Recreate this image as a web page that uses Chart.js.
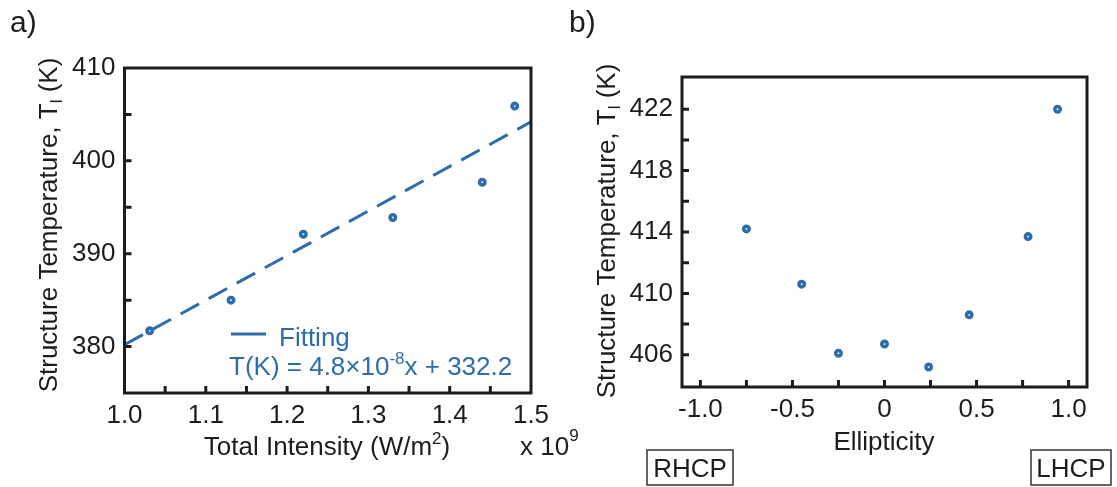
<!DOCTYPE html>
<html>
<head>
<meta charset="utf-8">
<script src="https://cdn.jsdelivr.net/npm/chart.js@4.4.1/dist/chart.umd.min.js"></script>
<style>
  body { margin: 0; background: #fff; }
  #wrap { position: relative; width: 1117px; height: 487px; overflow: hidden; }
  canvas { position: absolute; top: 0; }
  #chartA { left: 0; }
  #chartB { left: 560px; }
</style>
</head>
<body>
<div id="wrap">
  <canvas id="chartA" width="600" height="487"></canvas>
  <canvas id="chartB" width="557" height="487"></canvas>
</div>
<script>
// panel a) - temperature vs total intensity (x 1e9 W/m2)
const intensity = [1.031, 1.131, 1.220, 1.330, 1.440, 1.480];
const tempA = [381.7, 385.0, 392.1, 393.9, 397.7, 405.9];
const fitX = [1.0, 1.5];
const fitT = [380.2, 404.2];
const xLabelsA = [1.0, 1.1, 1.2, 1.3, 1.4, 1.5];
const xMarksA = [1.05, 1.1, 1.15, 1.2, 1.25, 1.3, 1.35, 1.4, 1.45];
const yLabelsA = [380, 390, 400, 410];
const yMarksA = [380, 385, 390, 395, 400, 405];

// panel b) - temperature vs ellipticity
const ellipticity = [-0.75, -0.45, -0.25, 0, 0.24, 0.46, 0.78, 0.94];
const tempB = [414.2, 410.6, 406.1, 406.7, 405.2, 408.6, 413.7, 422.0];
const xLabelsB = [-1.0, -0.5, 0, 0.5, 1.0];
const xMarksB = [-1.0, -0.75, -0.5, -0.25, 0, 0.25, 0.5, 0.75, 1.0];
const yLabelsB = [406, 410, 414, 418, 422];
const yMarksB = [406, 408, 410, 412, 414, 416, 418, 420, 422];

const BLUE = '#2e6dad';
const INK = '#1c1c1c';
const FONT = '"Liberation Sans", Arial, sans-serif';

function tickFont() { return { family: FONT, size: 26 }; }

// box around the plot area + inward ticks on left/bottom
function frame(xMarks, yMarks) {
    return {
        id: 'frame',
        afterDraw(chart) {
            const { ctx, chartArea: a, scales } = chart;
            ctx.save();
            ctx.strokeStyle = INK;
            ctx.lineWidth = 3;
            ctx.beginPath();
            xMarks.forEach(v => {
                const px = scales.x.getPixelForValue(v);
                ctx.moveTo(px, a.bottom);
                ctx.lineTo(px, a.bottom - 7);
            });
            yMarks.forEach(v => {
                const py = scales.y.getPixelForValue(v);
                ctx.moveTo(a.left, py);
                ctx.lineTo(a.left + 7, py);
            });
            ctx.stroke();
            ctx.strokeRect(a.left, a.top, a.right - a.left, a.bottom - a.top);
            ctx.restore();
        }
    };
}

// text pieces: [string, size, dy]
function drawPieces(ctx, pieces, x, y, align, color) {
    let total = 0;
    pieces.forEach(p => { ctx.font = p[1] + 'px ' + FONT; p.w = ctx.measureText(p[0]).width; total += p.w; });
    let cx = align === 'center' ? x - total / 2 : x;
    ctx.fillStyle = color;
    ctx.textAlign = 'left';
    ctx.textBaseline = 'alphabetic';
    pieces.forEach(p => {
        ctx.font = p[1] + 'px ' + FONT;
        ctx.fillText(p[0], cx, y + p[2]);
        cx += p.w;
    });
}

function drawYTitle(ctx, cx, cy) {
    ctx.save();
    ctx.translate(cx, cy);
    ctx.rotate(-Math.PI / 2);
    drawPieces(ctx, [['Structure Temperature, T', 26, 0], ['l', 17, 5], [' (K)', 26, 0]], 0, 9, 'center', INK);
    ctx.restore();
}

function baseOptions(pad, xMin, xMax, yMin, yMax, xLabels, yLabels, xFmt, xHeight, yWidth) {
    return {
        responsive: false,
        animation: false,
        layout: { padding: pad },
        plugins: { legend: { display: false }, tooltip: { enabled: false } },
        scales: {
            x: {
                type: 'linear', min: xMin, max: xMax,
                grid: { display: false, drawTicks: false },
                border: { display: false },
                ticks: { padding: 7, color: INK, font: tickFont(), maxRotation: 0, autoSkip: false, callback: xFmt },
                afterBuildTicks: s => { s.ticks = xLabels.map(v => ({ value: v })); },
                afterFit: s => { s.height = xHeight; }
            },
            y: {
                type: 'linear', min: yMin, max: yMax,
                grid: { display: false, drawTicks: false },
                border: { display: false },
                ticks: { padding: 9, color: INK, font: tickFont(), autoSkip: false, callback: v => String(v) },
                afterBuildTicks: s => { s.ticks = yLabels.map(v => ({ value: v })); },
                afterFit: s => { s.width = yWidth; }
            }
        }
    };
}

// thick ring with a small white centre
const pointStyle = { borderColor: BLUE, backgroundColor: '#fff', pointRadius: 2.7, borderWidth: 3.6, pointBorderWidth: 3.6 };

new Chart(document.getElementById('chartA'), {
    type: 'scatter',
    data: {
        datasets: [
            Object.assign({ data: intensity.map((x, i) => ({ x: x, y: tempA[i] })) }, pointStyle),
            {
                data: fitX.map((x, i) => ({ x: x, y: fitT[i] })),
                showLine: true, borderColor: BLUE, borderWidth: 3, borderDash: [21, 11],
                pointRadius: 0, fill: false
            }
        ]
    },
    options: baseOptions({ left: 0, top: 68, right: 69, bottom: 0 }, 1.0, 1.5, 375, 410,
        xLabelsA, yLabelsA, v => v.toFixed(1), 94, 124.5),
    plugins: [frame(xMarksA, yMarksA), {
        id: 'textA',
        afterDraw(chart) {
            const ctx = chart.ctx;
            ctx.save();
            drawPieces(ctx, [['a)', 30, 0]], 10, 32, 'left', INK);
            drawYTitle(ctx, 48, 225);
            drawPieces(ctx, [['Total Intensity (W/m', 26, 0], ['2', 17, -11], [')', 26, 0]], 327, 455, 'center', INK);
            drawPieces(ctx, [['x 10', 26, 0], ['9', 17, -14]], 520, 455, 'left', INK);
            // legend
            ctx.strokeStyle = BLUE;
            ctx.lineWidth = 3;
            ctx.beginPath();
            ctx.moveTo(231, 334);
            ctx.lineTo(266, 334);
            ctx.stroke();
            drawPieces(ctx, [['Fitting', 26, 0]], 279, 346, 'left', BLUE);
            drawPieces(ctx, [['T(K) = 4.8\u00d710', 26, 0], ['-8', 17, -11], ['x + 332.2', 26, 0]], 229, 375, 'left', BLUE);
            ctx.restore();
        }
    }]
});

new Chart(document.getElementById('chartB'), {
    type: 'scatter',
    data: {
        datasets: [
            Object.assign({ data: ellipticity.map((x, i) => ({ x: x, y: tempB[i] })) }, pointStyle)
        ]
    },
    options: baseOptions({ left: 0, top: 77, right: 30, bottom: 0 }, -1.1, 1.1, 403.9, 424.1,
        xLabelsB, yLabelsB, v => (v === 0 ? '0' : v.toFixed(1)), 100, 122),
    plugins: [frame(xMarksB, yMarksB), {
        id: 'textB',
        afterDraw(chart) {
            const ctx = chart.ctx;
            ctx.save();
            drawPieces(ctx, [['b)', 30, 0]], 9, 32, 'left', INK);
            drawYTitle(ctx, 46, 231);
            drawPieces(ctx, [['Ellipticity', 26, 0]], 324, 450, 'center', INK);
            ctx.strokeStyle = '#333';
            ctx.lineWidth = 1.5;
            ctx.strokeRect(87, 450, 86, 35);
            ctx.strokeRect(471, 450, 80, 35);
            drawPieces(ctx, [['RHCP', 26, 0]], 130, 477, 'center', INK);
            drawPieces(ctx, [['LHCP', 26, 0]], 511, 477, 'center', INK);
            ctx.restore();
        }
    }]
});
</script>
</body>
</html>
